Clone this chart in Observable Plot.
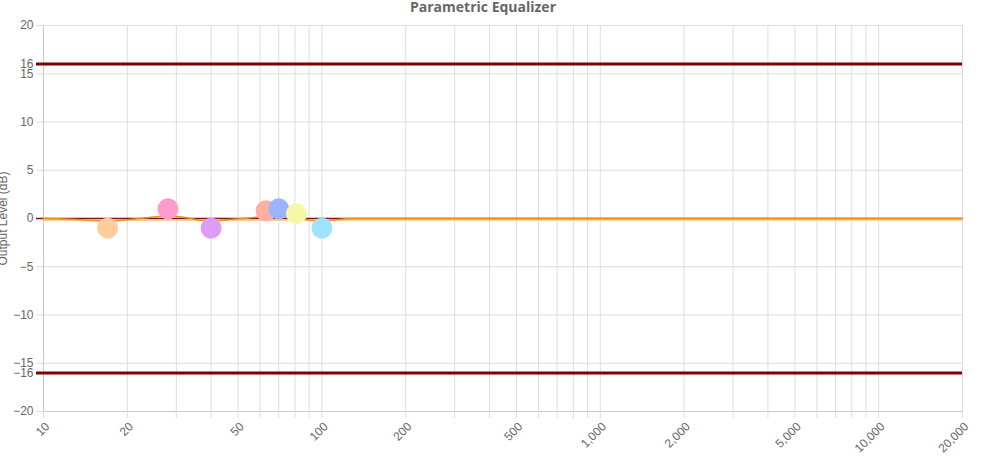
<!DOCTYPE html>
<html>
<head>
<meta charset="utf-8">
<script src="https://cdn.jsdelivr.net/npm/d3@7"></script>
<script src="https://cdn.jsdelivr.net/npm/@observablehq/plot@0.6"></script>
<style>
  html, body { margin: 0; padding: 0; background: #fff; overflow: hidden; }
  #chart svg { display: block; overflow: visible; }
</style>
</head>
<body>
<div id="chart"></div>
<script>
// Filter bands (control points)
const bandNames = ["Band 1", "Band 2", "Band 3", "Band 4", "Band 5", "Band 6", "Band 7"];
const bandFreq  = [17, 28, 40, 63, 70, 81, 100];
const bandGain  = [-1, 1, -1, 0.8, 1, 0.5, -1];

// Combined response curve
const respFreq = [10, 12, 14, 17, 20, 23, 28, 33, 36, 40, 45, 52, 58, 63, 70, 76, 81, 90, 100, 112, 130, 200, 20000];
const respGain = [0, -0.05, -0.15, -0.3, -0.12, 0.05, 0.25, 0.05, -0.15, -0.3, -0.15, 0, 0.12, 0.25, 0.3, 0.15, 0.05, -0.15, -0.3, -0.12, 0, 0, 0];

// Limits
const limits = [16, -16];

// Axis ticks
const xGrid = [10,20,30,40,50,60,70,80,90,100,200,300,400,500,600,700,800,900,1000,2000,3000,4000,5000,6000,7000,8000,9000,10000,20000];
const xLabels = [10, 20, 50, 100, 200, 500, 1000, 2000, 5000, 10000, 20000];
const yTicks = [-20, -16, -15, -10, -5, 0, 5, 10, 15, 16, 20];
const yGrid = [-20, -15, -10, -5, 0, 5, 10, 15, 20];

const bands = bandNames.map((name, i) => ({name, freq: bandFreq[i], gain: bandGain[i]}));
const resp = respFreq.map((f, i) => ({freq: f, gain: respGain[i]}));
const fmt = d3.format(",");

const chart = Plot.plot({
  width: 989,
  height: 461,
  marginTop: 25,
  marginBottom: 50,
  marginLeft: 43,
  marginRight: 27,
  style: {fontFamily: "'Liberation Sans', Arial, sans-serif", fontSize: "12px", color: "#666", background: "#fff"},
  x: {type: "log", domain: [10, 20000]},
  y: {domain: [-20, 20]},
  color: {domain: bandNames, range: ["#ffcd9c", "#ff9ccb", "#dc9cf8", "#ffafa1", "#9bb4ff", "#f7f7a8", "#9ce4ff"]},
  marks: [
    Plot.ruleX(xGrid, {stroke: "#ddd", strokeWidth: 1}),
    Plot.ruleY(yGrid, {stroke: "#ddd", strokeWidth: 1}),
    Plot.ruleY([-20], {stroke: "#c8c8c8"}),
    Plot.ruleX([10], {stroke: "#c8c8c8"}),
    Plot.axisX({
      ticks: xGrid,
      tickFormat: () => "",
      tickSize: 7,
      stroke: "#ddd",
      label: null
    }),
    Plot.text(xLabels, {
      x: d => d,
      text: d => fmt(d),
      frameAnchor: "bottom",
      dy: 13,
      dx: 4,
      rotate: -45,
      textAnchor: "end",
      lineAnchor: "middle",
      fontSize: 12,
      fill: "#666"
    }),
    Plot.axisY({
      ticks: yTicks,
      tickSize: 7,
      tickPadding: 3,
      stroke: "#ddd",
      fill: "#666",
      fontSize: 12,
      label: null
    }),
    // limit lines
    Plot.ruleY(limits, {stroke: "#800000", strokeWidth: 3, insetLeft: -7}),
    // zero / flat lines
    Plot.ruleY([0], {stroke: "#7a1020", strokeWidth: 1.5, insetLeft: -7}),
    Plot.ruleY([0], {stroke: "#f3c27c", strokeWidth: 1.5, dy: 1.5}),
    Plot.line(resp, {x: "freq", y: "gain", stroke: "#e8901c", strokeWidth: 1.5, curve: "monotone-x"}),
    // band points
    Plot.dot(bands, {x: "freq", y: "gain", r: 10.5, fill: "name", stroke: "none"}),
    // title
    Plot.text(["Parametric Equalizer"], {frameAnchor: "top", dy: -23, dx: -20, fontFamily: "'Open Sans', sans-serif", fontWeight: "bold", fontSize: 14, fill: "#666"}),
    // y label
    Plot.text(["Output Level (dB)"], {frameAnchor: "left", textAnchor: "middle", dx: -40, rotate: -90, fontSize: 12, fill: "#666"})
  ]
});
document.getElementById("chart").appendChild(chart);
</script>
</body>
</html>
